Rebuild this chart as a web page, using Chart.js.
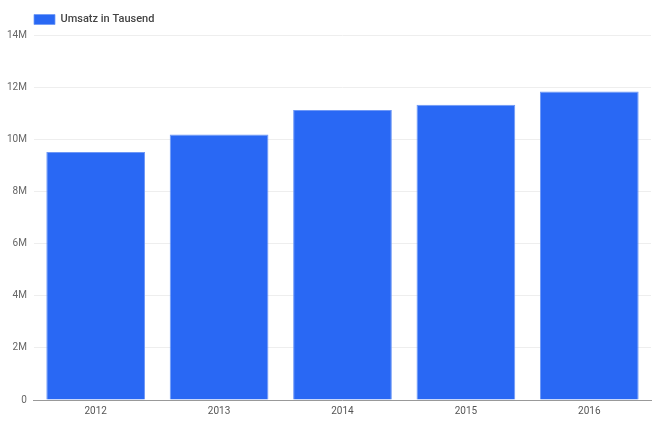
<!DOCTYPE html>
<html><head><meta charset="utf-8">
<script src="https://cdn.jsdelivr.net/npm/chart.js@4/dist/chart.umd.min.js"></script>
<style>html,body{margin:0;padding:0;background:#fff}#w{width:657px;height:434px}</style>
</head><body><div id="w"><canvas id="c"></canvas></div>
<script>
const categories = ['2012','2013','2014','2015','2016'];
const seriesName = 'Umsatz in Tausend';
const values = [9510000, 10180000, 11120000, 11320000, 11830000];
const yTicks = [0, 2000000, 4000000, 6000000, 8000000, 10000000, 12000000, 14000000];
const yLabels = ['0','2M','4M','6M','8M','10M','12M','14M'];

Chart.defaults.font.family = 'Roboto, "Open Sans", sans-serif';
const legendShift = {
  id: 'legendShift',
  afterLayout(chart) { if (chart.legend) { chart.legend.left += 24; chart.legend.right += 24; } }
};
new Chart(document.getElementById('c'), {
  type: 'bar',
  data: {
    labels: categories,
    datasets: [{
      label: seriesName,
      data: values,
      backgroundColor: '#2968F4',
      borderColor: '#6E98F6',
      borderWidth: {left:1,right:1,top:1,bottom:0},
      categoryPercentage: 1.0,
      barPercentage: 0.8
    }]
  },
  plugins: [legendShift],
  options: {
    responsive: true,
    maintainAspectRatio: false,
    animation: false,
    layout: {padding: {left: 0, right: 6, top: 4, bottom: 12}},
    plugins: {
      legend: {
        position: 'top',
        align: 'start',
        labels: {boxWidth: 21, boxHeight: 10, color: '#444', font: {size: 11, weight: '500'}, padding: 10}
      },
      tooltip: {enabled: false}
    },
    scales: {
      x: {
        grid: {display: false, drawTicks: false},
        border: {color: '#999', width: 1},
        ticks: {color: '#555', font: {size: 10}, padding: 5}
      },
      y: {
        min: 0, max: 14000000,
        afterBuildTicks: (s) => { s.ticks = yTicks.map(v => ({value: v})); },
        grid: {color: '#eeeeee', drawTicks: false},
        border: {display: false},
        ticks: {color: '#666', font: {size: 10}, padding: 7,
          callback: (v) => yLabels[yTicks.indexOf(v)]}
      }
    }
  }
});
</script></body></html>
